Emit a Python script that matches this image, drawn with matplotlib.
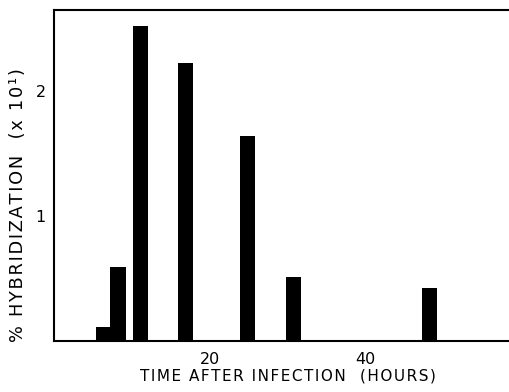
import matplotlib.pyplot as plt

# hours after infection and % hybridization (x10^1)
hours = [6.3, 8.2, 11.1, 16.9, 24.8, 30.7, 48.2]
hybrid = [0.11, 0.59, 2.52, 2.22, 1.64, 0.51, 0.42]
xticks = [20, 40]
yticks = [1, 2]


def spaced(s):
    # the original lettering is widely tracked
    return "\u200a".join(s)


fig = plt.figure(figsize=(5.1, 3.92), dpi=100)
ax = fig.add_axes([54 / 510, 1 - 340.6 / 392, 1 - 54 / 510, 330.6 / 392])

ax.bar(hours, hybrid, width=1.95, color="black")
ax.set_xlim(0, 58.5)
ax.set_ylim(0, 2.645)
ax.set_xticks(xticks)
ax.set_yticks(yticks)
ax.tick_params(length=0, labelsize=11.5)
ax.tick_params(axis="x", pad=8)
ax.tick_params(axis="y", pad=6)
ax.spines["right"].set_visible(False)
for s in ["left", "bottom", "top"]:
    ax.spines[s].set_linewidth(1.5)

fig.text(288 / 510, 1 - 376 / 392, spaced("TIME AFTER INFECTION  (HOURS)"),
         fontsize=11, ha="center", va="center")
fig.text(18 / 510, 1 - 205 / 392, spaced("% HYBRIDIZATION  (x 10¹)"),
         fontsize=12.8, ha="center", va="center", rotation=90)

fig.savefig("out.png", dpi=100)
